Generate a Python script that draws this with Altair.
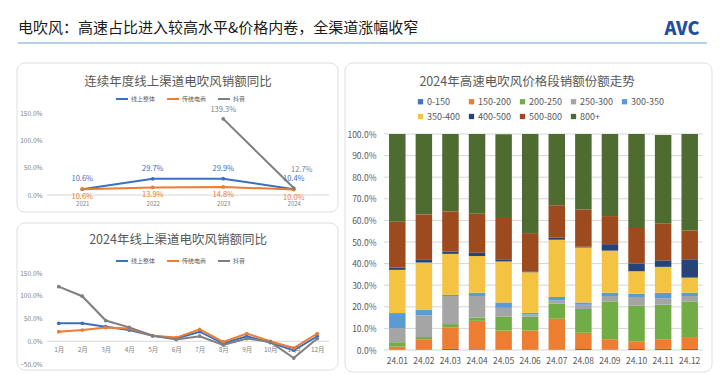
import altair as alt
import pandas as pd

FONT = "Noto Sans CJK SC"

# ---------------- data ----------------
series = ["线上整体", "传统电商", "抖音"]
series_colors = ["#3B6FC2", "#ED7D31", "#7F7F7F"]

years = ["2021", "2022", "2023", "2024"]
yr_total = [10.6, 29.7, 29.9, 10.4]
yr_trad = [10.6, 13.9, 14.8, 10.0]
yr_douyin = [None, None, 139.3, 12.7]

months = ["1月", "2月", "3月", "4月", "5月", "6月", "7月", "8月", "9月", "10月", "11月", "12月"]
m_total = [39.5, 39.5, 32.0, 24.6, 12.0, 6.0, 21.0, -5.0, 11.0, -3.0, -20.0, 11.0]
m_trad = [21.0, 24.6, 30.0, 28.0, 12.0, 8.0, 26.0, -1.5, 17.0, 0.0, -15.0, 17.0]
m_douyin = [120.0, 99.0, 45.5, 30.6, 12.0, 3.7, 11.0, -8.0, 6.0, -1.5, -37.0, 6.0]

bar_months = ["24.01", "24.02", "24.03", "24.04", "24.05", "24.06",
              "24.07", "24.08", "24.09", "24.10", "24.11", "24.12"]
bands = ["0-150", "150-200", "200-250", "250-300", "300-350",
         "350-400", "400-500", "500-800", "800+"]
band_colors = ["#4472C4", "#ED7D31", "#70AD47", "#A5A5A5", "#5B9BD5",
               "#F5C342", "#264478", "#9C4A1E", "#4E6B30"]
s_0_150 = [0.1, 0.1, 0.5, 0.3, 0.1, 0.1, 0.1, 0.5, 0.2, 0.5, 0.5, 0.5]
s_150_200 = [1.5, 4.9, 10.0, 13.2, 8.9, 8.9, 14.4, 7.5, 4.8, 3.5, 4.5, 5.5]
s_200_250 = [2.0, 1.0, 1.5, 1.5, 6.5, 6.5, 7.0, 11.0, 17.5, 16.5, 16.0, 16.5]
s_250_300 = [6.5, 10.0, 13.0, 10.0, 4.0, 1.0, 1.5, 2.0, 2.5, 4.0, 3.0, 2.5]
s_300_350 = [7.0, 2.5, 0.5, 1.5, 2.5, 0.7, 1.5, 1.0, 1.5, 1.5, 2.5, 1.5]
s_350_400 = [20.0, 22.0, 19.0, 17.0, 19.0, 18.8, 26.5, 25.5, 19.5, 10.5, 12.0, 7.0]
s_400_500 = [1.0, 1.5, 1.0, 1.5, 1.0, 0.4, 1.0, 0.3, 3.0, 3.5, 3.0, 8.5]
s_500_800 = [21.3, 20.8, 18.7, 18.1, 19.6, 17.7, 15.0, 17.2, 13.0, 16.5, 17.1, 13.4]
s_800p = [40.6, 37.2, 35.8, 36.9, 38.3, 45.9, 33.0, 35.0, 38.0, 43.5, 40.9, 44.6]

pct_ticks = [0, 10, 20, 30, 40, 50, 60, 70, 80, 90, 100]

# ---------------- tables ----------------
rows = []
for s, vals in zip(series, [yr_total, yr_trad, yr_douyin]):
    for y, v in zip(years, vals):
        if v is not None:
            rows.append({"x": y, "v": v, "s": s})
dfA = pd.DataFrame(rows)

rows = []
for s, vals in zip(series, [m_total, m_trad, m_douyin]):
    for m, v in zip(months, vals):
        rows.append({"x": m, "v": v, "s": s})
dfB = pd.DataFrame(rows)

rows = []
all_bands = [s_0_150, s_150_200, s_200_250, s_250_300, s_300_350,
             s_350_400, s_400_500, s_500_800, s_800p]
for k, (b, vals) in enumerate(zip(bands, all_bands)):
    for m, v in zip(bar_months, vals):
        rows.append({"m": m, "b": b, "v": v, "k": k})
dfC = pd.DataFrame(rows)

one = alt.Data(values=[{"a": 1}])


def card(x0, x1, y0, y1):
    return alt.Chart(one).mark_rect(
        fill="white", stroke="#dedede", strokeWidth=1, cornerRadius=8
    ).encode(x=alt.value(x0), x2=alt.value(x1), y=alt.value(y0), y2=alt.value(y1))


def label(txt, x, y, size=12.5, color="#595959", align="center", weight="normal"):
    return alt.Chart(one).mark_text(
        text=txt, font=FONT, fontSize=size, color=color, align=align,
        baseline="middle", fontWeight=weight
    ).encode(x=alt.value(x), y=alt.value(y))


def series_legend(lx, ly):
    return alt.Legend(
        orient="none", legendX=lx, legendY=ly, direction="horizontal", title=None,
        symbolType="stroke", symbolStrokeWidth=2, symbolSize=144,
        labelFontSize=6, labelColor="#595959", labelFont=FONT,
        labelOffset=2, columnPadding=7)


pct = "format(datum.value, '.1f') + '%'"
pct_v = "format(datum.v, '.1f') + '%'"


def color_series(lx, ly):
    return alt.Color("s:N", sort=series, scale=alt.Scale(domain=series, range=series_colors),
                     legend=series_legend(lx, ly))


def ax(**kw):
    base = dict(title=None, domain=False, ticks=False, zindex=1, grid=False, tickCount=50,
                labelOverlap=False, labelBound=False, labelColor="#7f7f7f")
    base.update(kw)
    return alt.Axis(**base)


# ---------------- chart A ----------------
xA = alt.X("x:O", sort=years, scale=alt.Scale(type="point", padding=0.5),
           axis=ax(labelAngle=0, labelFontSize=6, labelPadding=5))
yA = alt.Y("v:Q", scale=alt.Scale(domain=[0, 150], nice=False),
           axis=ax(values=[0, 50, 100, 150], labelExpr=pct, labelFontSize=6.5, labelPadding=5))

baseA = alt.Chart(dfA).encode(x=xA, y=yA)
linesA = baseA.mark_line(strokeWidth=2, point=alt.OverlayMarkDef(filled=True, size=14)).encode(
    color=color_series(68, -21))
zeroA = alt.Chart(one).mark_rule(color="#d6d6d6", strokeWidth=1).encode(
    y=alt.datum(0), x=alt.value(0), x2=alt.value(282))


def vlab(flt, color, dx, dy):
    return baseA.transform_filter(flt).transform_calculate(lbl=pct_v).mark_text(
        font=FONT, fontSize=7.5, color=color, dx=dx, dy=dy
    ).encode(text=alt.Text("lbl:N"))


labA = [
    vlab(alt.datum.s == "线上整体", "#3B6FC2", 0, -10),
    vlab(alt.datum.s == "传统电商", "#ED7D31", 0, 8),
    vlab((alt.datum.s == "抖音") & (alt.datum.x == "2023"), "#7F7F7F", 0, -9),
    vlab((alt.datum.s == "抖音") & (alt.datum.x == "2024"), "#7F7F7F", 8, -18),
]

# invisible anchor fixing the page origin of the whole composition
anchor = alt.Chart(one).mark_rect(fill="white", opacity=0).encode(
    x=alt.value(-47), x2=alt.value(0), y=alt.value(-113), y2=alt.value(0))

title_main = label("电吹风：高速占比进入较高水平&价格内卷，全渠道涨幅收窄", -29, -85,
                   size=15, color="#1a1a1a", align="left")
rule_main = alt.Chart(one).mark_rule(color="#9DC3E6", strokeWidth=1.5).encode(
    x=alt.value(-29), x2=alt.value(660), y=alt.value(-70))
logo = label("AVC", 635, -83, size=18, color="#1F4E9F", align="center", weight=900)

A = alt.layer(
    anchor, card(-30, 291, -50, 99), title_main, rule_main, logo,
    label("连续年度线上渠道电吹风销额同比", 131, -31),
    zeroA, linesA, *labA
).properties(width=282, height=82)

# ---------------- chart B ----------------
xB = alt.X("x:O", sort=months, scale=alt.Scale(type="point", padding=0.5),
           axis=ax(labelAngle=0, offset=-23, labelFontSize=6.5, labelPadding=5))
yB = alt.Y("v:Q", scale=alt.Scale(domain=[-50, 150], nice=False),
           axis=ax(values=[-50, 0, 50, 100, 150], labelExpr=pct, labelFontSize=6.5, labelPadding=5))
linesB = alt.Chart(dfB).mark_line(strokeWidth=2, point=alt.OverlayMarkDef(filled=True, size=14)).encode(
    x=xB, y=yB, color=color_series(68, -19))
zeroB = alt.Chart(one).mark_rule(color="#d6d6d6", strokeWidth=1).encode(
    y=alt.datum(0), x=alt.value(0), x2=alt.value(282))

B = alt.layer(
    card(-30, 291, -50, 97),
    label("2024年线上渠道电吹风销额同比", 131, -33),
    zeroB, linesB
).properties(width=282, height=91)

# ---------------- chart C (spans both rows: its y range reaches below its grid cell) ----------------
yC_scale = alt.Scale(domain=[0, 100], range=[237, 21], nice=False)
gridC = alt.Chart(alt.Data(values=[{"t": t} for t in pct_ticks])).mark_rule(
    color="#d6d6d6", strokeWidth=1
).encode(y=alt.Y("t:Q", scale=yC_scale), x=alt.value(0), x2=alt.value(319))

bars = alt.Chart(dfC).mark_bar().encode(
    x=alt.X("m:N", sort=bar_months,
            scale=alt.Scale(paddingInner=0.38, paddingOuter=0.19),
            axis=ax(labelAngle=0, offset=155, labelFontSize=8.5, labelColor="#595959", labelPadding=6)),
    y=alt.Y("v:Q", stack="zero", scale=yC_scale,
            axis=ax(values=pct_ticks, labelExpr=pct, labelFontSize=8.5, labelColor="#595959",
                    labelPadding=8)),
    color=alt.Color("b:N", sort=bands, scale=alt.Scale(domain=bands, range=band_colors),
                    legend=alt.Legend(orient="none", legendX=32, legendY=-16, direction="horizontal",
                                      columns=5, title=None, symbolType="square", symbolSize=28,
                                      labelFontSize=9, labelColor="#595959", labelFont=FONT,
                                      labelOffset=2, columnPadding=6, rowPadding=5)),
    order=alt.Order("k:Q", sort="ascending"),
)

C = alt.layer(
    card(-39, 328, -50, 259),
    label("2024年高速电吹风价格段销额份额走势", 143, -31),
    gridC, bars
).properties(width=319, height=82)

chart = alt.concat(
    A, C, B, columns=2, spacing={"row": 78, "column": 55}, bounds="flush", align="each"
).resolve_scale(color="independent").properties(
    autosize=alt.AutoSizeParams(type="pad"),
    padding=0,
    background="white",
).configure_view(stroke=None).configure_axis(labelFont=FONT)

chart.save("out.html", embed_options={"renderer": "svg", "actions": False})
